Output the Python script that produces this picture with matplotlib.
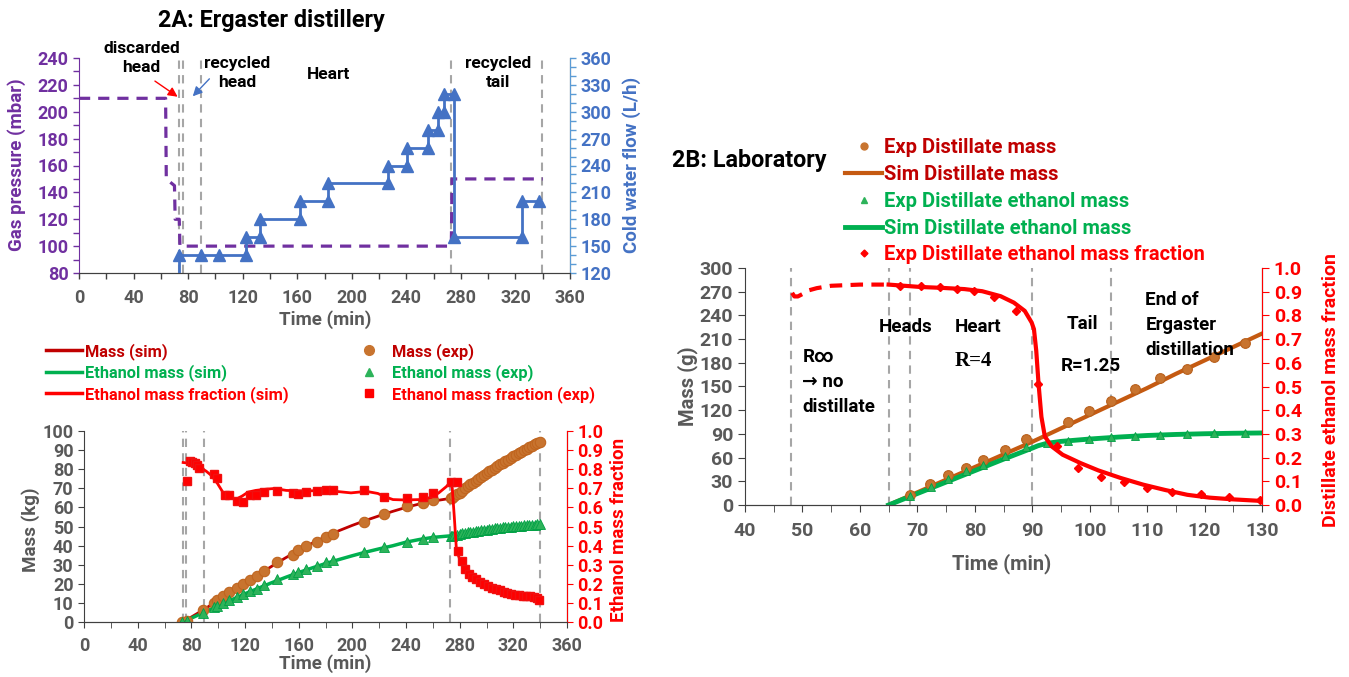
import numpy as np
import matplotlib.pyplot as plt
from matplotlib.lines import Line2D
from matplotlib.ticker import FormatStrFormatter

W, H = 1349, 677
FONT = ['Roboto', 'DejaVu Sans']
plt.rcParams['font.family'] = FONT
plt.rcParams['font.weight'] = 'bold'
plt.rcParams['axes.labelweight'] = 'bold'

PURPLE = '#7030A0'
BLUE = '#4472C4'
LBLUE = '#5B9BD5'
GREY = '#595959'
DASH = '#A6A6A6'
DRED = '#C00000'
RED = '#FF0000'
GREEN = '#00B050'
ORANGE = '#C55A11'
ORANGE_PT = '#C8742F'

# ---------------- 2A top: gas pressure / cold water flow ----------------
pressure_t = [0, 63.5, 64, 70, 70.5, 73.5, 74, 273, 273.5, 340]
pressure = [210, 210, 150, 145, 120, 120, 100, 100, 150, 150]

flow_t = [73.4, 73.4, 89.4, 102.9, 122.5, 122.5, 132.6, 132.6, 162.3, 162.3,
          182.5, 182.5, 226.2, 226.2, 240.3, 240.3, 256.2, 256.2, 263.2, 263.2,
          267.5, 267.5, 274.7, 274.7, 325, 325, 337]
flow = [120, 140, 140, 140, 140, 160, 160, 180, 180, 200,
        200, 220, 220, 240, 240, 260, 260, 280, 280, 300,
        300, 320, 320, 160, 160, 200, 200]

cuts_2a = [73.5, 76.0, 89.3, 272.7, 339.8]

# ---------------- 2A bottom: distillate masses ----------------
mass_exp_t = [73.4, 76.8, 89.0, 96.7, 99.5, 103.8, 108.0, 113.7, 118.6, 123.7,
              128.8, 134.5, 143.9, 155.8, 159.8, 165.5, 173.4, 180.5, 185.4, 208.4,
              223.8, 240.5, 252.5, 260.4, 273.5,
              274, 276, 278, 280, 282, 284, 286, 288, 290, 292, 294, 296, 298, 300,
              302, 304, 306, 308, 310, 312, 314, 316, 318, 320, 322, 324, 326, 328,
              330, 332, 334, 336, 338, 340]
mass_exp = [0, 0.5, 6.1, 9.9, 11.3, 13.4, 15.5, 18.0, 19.9, 22.0,
            24.3, 26.9, 31.4, 35.3, 37.5, 39.6, 42.1, 44.5, 46.3, 52.4,
            56.6, 60.7, 62.5, 63.8, 64.7,
            64.7, 65.8, 66.8, 67.8, 68.8, 69.9, 71.0, 72.0, 73.0, 74.0, 75.0, 76.0, 77.0, 78.0,
            78.9, 79.8, 80.7, 81.6, 82.5, 83.3, 84.1, 85.0, 85.9, 86.8, 87.6, 88.4, 89.2, 90.0,
            90.8, 91.5, 92.3, 93.0, 93.7, 94.4]

eth_exp = [0, 0.5, 4.5, 7.8, 8.6, 10.2, 11.7, 13.3, 14.7, 16.2,
           17.5, 19.4, 22.3, 25.2, 26.4, 27.5, 29.1, 31.2, 32.4, 36.4,
           39.3, 42.1, 43.7, 44.5, 45.0,
           45.2, 45.5, 45.8, 46.1, 46.4, 46.7, 46.9, 47.1, 47.3, 47.6, 47.8, 48.0, 48.2, 48.4,
           48.6, 48.8, 49.0, 49.2, 49.4, 49.5, 49.7, 49.8, 50.0, 50.1, 50.3, 50.4, 50.5, 50.6,
           50.7, 50.8, 50.9, 51.0, 51.1, 51.2]

sim_t = [73.4, 80, 90, 100, 110, 120, 130, 140, 150, 160, 170, 180, 190, 200,
         210, 220, 230, 240, 250, 260, 273, 280, 290, 300, 310, 320, 330, 340]
mass_sim = [0, 2.6, 6.8, 11.4, 15.8, 20.3, 24.8, 29.2, 33.5, 37.5, 41.2, 44.6, 47.8, 50.6,
            53.2, 55.6, 57.9, 60.0, 61.8, 63.3, 64.7, 67.8, 73.0, 78.0, 82.5, 86.8, 90.8, 94.4]
eth_sim = [0, 2.0, 5.2, 8.4, 11.6, 14.8, 17.7, 20.6, 23.3, 25.9, 28.3, 30.6, 32.7, 34.7,
           36.6, 38.3, 39.9, 41.8, 43.2, 44.3, 45.1, 46.1, 47.3, 48.4, 49.4, 50.1, 50.7, 51.2]

frac_sim_t = [73.9, 79.6, 85.3, 91, 95.3, 99.5, 103.8, 108, 113.7, 118, 122.3, 128,
              136.5, 142, 150.7, 164.9, 179.1, 187.7, 199, 210.4, 219, 224.6, 230.3,
              238.8, 250.2, 258.7, 264.4, 270.1, 273.3, 274.5, 276, 277.6, 279.6,
              283.3, 287, 292, 299.4, 306.8, 316.8, 326.7, 339.9]
frac_sim = [0.835, 0.83, 0.814, 0.79, 0.765, 0.725, 0.676, 0.652, 0.644, 0.66, 0.68, 0.689,
            0.696, 0.699, 0.689, 0.686, 0.689, 0.684, 0.676, 0.684, 0.673, 0.655, 0.641,
            0.639, 0.641, 0.652, 0.676, 0.709, 0.735, 0.70, 0.55, 0.377, 0.337,
            0.288, 0.248, 0.223, 0.199, 0.183, 0.159, 0.146, 0.118]

frac_exp_t = [76.8, 78.8, 80.5, 82.5, 83.9, 85.9, 96.7, 99.5, 105.2, 108.0, 113.7, 118.6,
              123.7, 128.0, 134.5, 143.9, 155.8, 159.8, 165.5, 173.4, 180.5, 185.4,
              208.4, 223.8, 240.5, 252.5, 260.4, 273.5, 277.8,
              278.6, 281.5, 283.8, 286.6, 289.5, 292.3, 295.1, 298.0, 300.8, 304.2,
              307.1, 309.9, 312.8, 315.6, 318.5, 321.3, 324.1, 327.0, 329.8, 332.7,
              335.5, 337.5, 339.5]
frac_exp = [0.736, 0.841, 0.838, 0.83, 0.822, 0.806, 0.777, 0.752, 0.665, 0.665, 0.636, 0.628,
            0.665, 0.665, 0.681, 0.684, 0.676, 0.672, 0.681, 0.684, 0.689, 0.693,
            0.689, 0.655, 0.647, 0.652, 0.673, 0.733, 0.733,
            0.372, 0.32, 0.28, 0.252, 0.236, 0.223, 0.21, 0.199, 0.191, 0.18,
            0.175, 0.165, 0.159, 0.15, 0.146, 0.142, 0.139, 0.137, 0.137, 0.134,
            0.129, 0.126, 0.115]

# ---------------- 2B laboratory ----------------
cuts_2b = [48.0, 65.0, 68.8, 90.0, 103.8]

lab_exp_t = [68.8, 72.2, 75.3, 78.4, 81.5, 85.2, 88.95, 96.3, 99.8, 103.8,
             107.9, 112.2, 117.0, 121.7, 127.1]
lab_mass_exp = [12.6, 27.2, 37.7, 46.9, 56.5, 69.9, 83.0, 105.4, 118.4, 131.8,
                147.3, 161.1, 172.4, 187.9, 204.6]
lab_eth_exp_t = [68.8, 72.4, 75.4, 78.4, 81.5, 85.2, 88.95, 92.6, 96.3, 99.8,
                 103.8, 107.9, 112.2, 117.0, 121.7, 127.1]
lab_eth_exp = [11.3, 23.0, 33.0, 42.7, 51.0, 62.3, 73.2, 79.0, 81.6, 84.1,
               85.8, 87.9, 88.7, 90.0, 90.8, 90.8]

lab_sim_t = [65, 70, 75, 80, 85, 90, 95, 100, 105, 110, 115, 120, 125, 130]
lab_mass_sim = [0, 16, 32, 48, 64, 80, 97, 114, 131, 148, 166, 183, 200, 217]
lab_eth_sim_t = [65, 70, 75, 80, 85, 90, 91, 92.5, 95, 100, 105, 110, 115, 120, 125, 130]
lab_eth_sim = [0, 14.5, 29, 43.5, 58, 72, 75, 78, 80.5, 83.5, 86, 88, 89.3, 90.2, 90.8, 91.2]

lab_frac_pre_t = [48.2, 48.6, 49.2, 50.0, 51.0, 52.5, 55.0, 60.0, 65.0]
lab_frac_pre = [0.895, 0.88, 0.88, 0.89, 0.905, 0.915, 0.925, 0.93, 0.93]
lab_frac_t = [65.0, 70.5, 74.4, 78.2, 81.3, 84.5, 86.8, 88.7, 89.9, 90.3, 90.7, 91.1,
              91.6, 92.2, 93.4, 95.3, 98.4, 101.5, 105.4, 109.3, 113.2, 117.0, 120.9,
              124.8, 130.0]
lab_frac = [0.93, 0.92, 0.916, 0.911, 0.902, 0.881, 0.854, 0.819, 0.77, 0.742, 0.651, 0.512,
            0.372, 0.289, 0.247, 0.212, 0.177, 0.146, 0.114, 0.086, 0.063, 0.043, 0.031,
            0.024, 0.017]
lab_frac_exp_t = [67.0, 70.7, 74.0, 76.9, 79.9, 83.3, 87.2, 91.0, 94.4, 98.0, 101.9,
                  105.9, 110.0, 114.4, 119.3, 124.3, 129.6]
lab_frac_exp = [0.922, 0.923, 0.919, 0.912, 0.902, 0.877, 0.82, 0.51, 0.25, 0.155, 0.12,
                0.098, 0.073, 0.054, 0.048, 0.032, 0.02]


def rect(x0, x1, ytop, ybot):
    return [x0 / W, 1 - ybot / H, (x1 - x0) / W, (ybot - ytop) / H]


def fxy(x, y):
    return (x / W, 1 - y / H)


TICK = 13
LAB = 13.5
LEG = 11.8
XPAD = 7.5

fig = plt.figure(figsize=(W / 100, H / 100), dpi=100)

# ======================= 2A top =======================
ax1 = fig.add_axes(rect(79, 570, 58, 273))
ax1r = ax1.twinx()
for x in cuts_2a:
    ax1.axvline(x, color=DASH, lw=1.5, ls=(0, (4, 3)), zorder=1)
ax1.plot(pressure_t, pressure, color=PURPLE, lw=2.3, ls=(0, (3.5, 2.5)), zorder=3)
ax1r.plot(flow_t, flow, color=BLUE, lw=2.0, marker='^', ms=8,
          markevery=list(range(1, len(flow_t))), zorder=3)

ax1.set_xlim(0, 360)
ax1.set_ylim(80, 240)
ax1r.set_ylim(120, 360)
ax1.set_xticks(range(0, 361, 40))
ax1.set_xticks(range(0, 361, 20), minor=True)
ax1.set_yticks(range(80, 241, 20))
ax1.set_yticks(range(80, 241, 10), minor=True)
ax1r.set_yticks(range(120, 361, 30))
ax1r.set_yticks(range(120, 361, 10), minor=True)
ax1.tick_params(axis='x', which='both', colors='#404040', labelcolor=GREY,
                labelsize=TICK, length=4, width=1, pad=XPAD)
ax1.tick_params(axis='y', which='both', colors=PURPLE, labelcolor=PURPLE,
                labelsize=TICK, length=4, width=1)
ax1r.tick_params(axis='y', which='both', colors=LBLUE, labelcolor=BLUE,
                 labelsize=TICK, length=4, width=1)
for a in (ax1, ax1r):
    a.spines['top'].set_visible(False)
ax1.spines['left'].set_color(PURPLE)
ax1r.spines['left'].set_visible(False)
ax1r.spines['right'].set_color(LBLUE)
ax1r.spines['bottom'].set_color('#404040')
ax1.spines['bottom'].set_color('#404040')

ax1.set_ylabel('Gas pressure (mbar)', color=PURPLE, fontsize=LAB)
ax1.yaxis.set_label_coords(*fxy(26, 165), transform=fig.transFigure)
ax1r.set_ylabel('Cold water flow (L/h)', color=BLUE, fontsize=LAB)
ax1r.yaxis.set_label_coords(*fxy(622, 165), transform=fig.transFigure)
ax1.set_xlabel('Time (min)', color=GREY, fontsize=LAB)
ax1.xaxis.set_label_coords(*fxy(325, 310), transform=fig.transFigure)
fig.text(*fxy(271, 20), '2A: Ergaster distillery', ha='center', va='center',
         fontsize=16.8, color='black')

ann = dict(ha='center', va='center', fontsize=12.5, color='black', linespacing=1.3)
ax1.text(46, 240, 'discarded\nhead', clip_on=False, **ann)
ax1.text(116, 229, 'recycled\nhead', **ann)
ax1.text(183, 228, 'Heart', **ann)
ax1.text(307, 229, 'recycled\ntail', **ann)
ax1.annotate('', xy=(74, 210), xytext=(54, 224),
             arrowprops=dict(arrowstyle='-|>', color=RED, lw=1, mutation_scale=14))
ax1.annotate('', xy=(82, 210), xytext=(97, 226),
             arrowprops=dict(arrowstyle='-|>', color=BLUE, lw=1, mutation_scale=14))

# ======================= 2A bottom =======================
ax2 = fig.add_axes(rect(84, 567, 431, 622))
ax2r = ax2.twinx()
for x in cuts_2a:
    ax2.axvline(x, color=DASH, lw=1.5, ls=(0, (4, 3)), zorder=1)
ax2.plot(sim_t, mass_sim, color=DRED, lw=2, zorder=2)
ax2.plot(sim_t, eth_sim, color=GREEN, lw=2.5, zorder=2)
ax2.plot(mass_exp_t, mass_exp, ls='none', marker='o', ms=7.5, color=ORANGE_PT,
         mec='#C0651F', mew=0.8, zorder=3)
ax2.plot(mass_exp_t, eth_exp, ls='none', marker='^', ms=6.5, color='#2DB35A',
         mec='#00A045', mew=0.6, zorder=3)
ax2r.plot(frac_sim_t, frac_sim, color=RED, lw=2, zorder=2)
ax2r.plot(frac_exp_t, frac_exp, ls='none', marker='s', ms=6, color=RED,
          mec='#F01010', zorder=3)

ax2.set_xlim(0, 360)
ax2.set_ylim(0, 100)
ax2r.set_ylim(0, 1)
ax2.set_xticks(range(0, 361, 40))
ax2.set_xticks(range(0, 361, 20), minor=True)
ax2.set_yticks(range(0, 101, 10))
ax2r.set_yticks(np.linspace(0, 1, 11))
ax2r.yaxis.set_major_formatter(FormatStrFormatter('%.1f'))
ax2.tick_params(axis='x', which='both', colors='#404040', labelcolor=GREY,
                labelsize=TICK, length=4, pad=XPAD - 1)
ax2.tick_params(axis='y', colors='#404040', labelcolor=GREY, labelsize=TICK, length=4)
ax2r.tick_params(axis='y', colors=RED, labelcolor=RED, labelsize=TICK, length=4)
for a in (ax2, ax2r):
    a.spines['top'].set_visible(False)
ax2.spines['left'].set_color('#404040')
ax2.spines['bottom'].set_color('#404040')
ax2r.spines['left'].set_visible(False)
ax2r.spines['right'].set_color(RED)
ax2r.spines['bottom'].set_color('#404040')

ax2.set_ylabel('Mass (kg)', color=GREY, fontsize=LAB)
ax2.yaxis.set_label_coords(*fxy(40, 530), transform=fig.transFigure)
ax2r.set_ylabel('Ethanol mass fraction', color=RED, fontsize=LAB)
ax2r.yaxis.set_label_coords(*fxy(610, 530), transform=fig.transFigure)
ax2.set_xlabel('Time (min)', color=GREY, fontsize=LAB)
ax2.xaxis.set_label_coords(*fxy(325, 654), transform=fig.transFigure)

h_sim = [Line2D([], [], color=DRED, lw=2.5),
         Line2D([], [], color=GREEN, lw=2.5),
         Line2D([], [], color=RED, lw=2.5)]
h_exp = [Line2D([], [], ls='none', marker='o', ms=7, color=ORANGE_PT),
         Line2D([], [], ls='none', marker='^', ms=6, color='#2DB35A'),
         Line2D([], [], ls='none', marker='s', ms=5.5, color=RED)]
fig.legend(h_sim, ['Mass (sim)', 'Ethanol mass (sim)', 'Ethanol mass fraction (sim)'],
           loc='upper left', bbox_to_anchor=fxy(46, 343), frameon=False,
           fontsize=LEG, borderpad=0, borderaxespad=0, handlelength=2.2,
           handletextpad=0.15, labelspacing=0.27,
           labelcolor=[DRED, GREEN, RED])
fig.legend(h_exp, ['Mass (exp)', 'Ethanol mass (exp)', 'Ethanol mass fraction (exp)'],
           loc='upper left', bbox_to_anchor=fxy(361, 343), frameon=False,
           fontsize=LEG, borderpad=0, borderaxespad=0, handlelength=1.0,
           handletextpad=0.9, labelspacing=0.27,
           labelcolor=[DRED, GREEN, RED])

# ======================= 2B laboratory =======================
ax3 = fig.add_axes(rect(745, 1262, 268, 505))
ax3r = ax3.twinx()
for x in cuts_2b:
    ax3.axvline(x, color=DASH, lw=1.5, ls=(0, (4, 3)), zorder=1)
ax3.plot(lab_sim_t, lab_mass_sim, color=ORANGE, lw=3, zorder=2)
ax3.plot(lab_eth_sim_t, lab_eth_sim, color=GREEN, lw=3.5, zorder=2)
ax3.plot(lab_exp_t, lab_mass_exp, ls='none', marker='o', ms=7, color=ORANGE_PT,
         mec='#B8601C', mew=0.8, zorder=3)
ax3.plot(lab_eth_exp_t, lab_eth_exp, ls='none', marker='^', ms=5.5, color='#2DB35A',
         mec='#00A045', mew=0.6, zorder=3)
ax3r.plot(lab_frac_pre_t, lab_frac_pre, color=RED, lw=3, ls=(0, (3, 2)), zorder=2)
ax3r.plot(lab_frac_t, lab_frac, color=RED, lw=3, zorder=2)
ax3r.plot(lab_frac_exp_t, lab_frac_exp, ls='none', marker='D', ms=4.5, color=RED, zorder=3)

ax3.set_xlim(40, 130)
ax3.set_ylim(0, 300)
ax3r.set_ylim(0, 1)
ax3.set_xticks(range(40, 131, 10))
ax3.set_xticks(range(40, 131, 5), minor=True)
ax3.set_yticks(range(0, 301, 30))
ax3r.set_yticks(np.linspace(0, 1, 11))
ax3r.yaxis.set_major_formatter(FormatStrFormatter('%.1f'))
ax3.tick_params(axis='x', which='both', colors='#404040', labelcolor=GREY,
                labelsize=TICK + 1, length=5, pad=XPAD)
ax3.tick_params(axis='y', colors='#404040', labelcolor=GREY, labelsize=TICK + 1, length=5)
ax3r.tick_params(axis='y', colors=RED, labelcolor=RED, labelsize=TICK + 1, length=5)
for a in (ax3, ax3r):
    a.spines['top'].set_visible(False)
ax3.spines['left'].set_color('#404040')
ax3.spines['bottom'].set_color('#404040')
ax3r.spines['left'].set_visible(False)
ax3r.spines['right'].set_color(RED)
ax3r.spines['bottom'].set_color('#404040')

ax3.set_ylabel('Mass (g)', color=GREY, fontsize=LAB + 1)
ax3.yaxis.set_label_coords(*fxy(698, 386), transform=fig.transFigure)
ax3r.set_ylabel('Distillate ethanol mass fraction', color=RED, fontsize=LAB + 0.5)
ax3r.yaxis.set_label_coords(*fxy(1322, 390), transform=fig.transFigure)
ax3.set_xlabel('Time (min)', color=GREY, fontsize=LAB + 1)
ax3.xaxis.set_label_coords(*fxy(1002, 553), transform=fig.transFigure)
fig.text(*fxy(672, 160), '2B: Laboratory', ha='left', va='center',
         fontsize=16.8, color='black')

ann_l = dict(ha='left', va='center', fontsize=13.5, color='black', linespacing=1.5)
ax3.text(50.0, 156, 'R\u221e\n\u2192 no\ndistillate', **ann_l)
ax3.text(67.9, 225, 'Heads', ha='center', va='center', fontsize=13.5)
ax3.text(80.6, 225, 'Heart', ha='center', va='center', fontsize=13.5)
ax3.text(79.8, 182, 'R=4', ha='center', va='center', fontsize=15,
         family=['Liberation Serif', 'DejaVu Serif'])
ax3.text(98.8, 229, 'Tail', ha='center', va='center', fontsize=13.5)
ax3.text(100.2, 176, 'R=1.25', ha='center', va='center', fontsize=13.5)
ax3.text(109.7, 228, 'End of\nErgaster\ndistillation', **ann_l)

h_lab = [Line2D([], [], ls='none', marker='o', ms=5, color=ORANGE_PT),
         Line2D([], [], color=ORANGE, lw=3),
         Line2D([], [], ls='none', marker='^', ms=4.5, color='#2DB35A'),
         Line2D([], [], color=GREEN, lw=3.5),
         Line2D([], [], ls='none', marker='D', ms=3.5, color=RED)]
fig.legend(h_lab, ['Exp Distillate mass', 'Sim Distillate mass',
                   'Exp Distillate ethanol mass', 'Sim Distillate ethanol mass',
                   'Exp Distillate ethanol mass fraction'],
           loc='upper left', bbox_to_anchor=fxy(845, 138), frameon=False,
           fontsize=LAB + 1, borderpad=0, borderaxespad=0, handlelength=1.85,
           handletextpad=0.1, labelspacing=0.39,
           labelcolor=[DRED, DRED, GREEN, GREEN, RED])

fig.savefig('out.png', dpi=100)
